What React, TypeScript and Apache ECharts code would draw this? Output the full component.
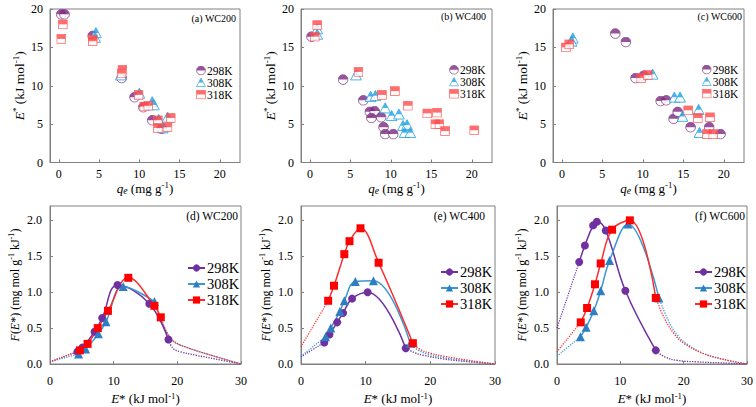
import React, { useEffect, useRef } from 'react';
import * as echarts from 'echarts';

const TEMPS = ['298K', '308K', '318K'];
const PANEL_TOP = ['(a) WC200', '(b) WC400', '(c) WC600'];
const PANEL_BOT = ['(d) WC200', '(e) WC400', '(f) WC600'];
const TOP_X_TICKS = [0, 5, 10, 15, 20];
const TOP_Y_TICKS = [0, 5, 10, 15, 20];
const BOT_X_TICKS = [0, 10, 20, 30];
const BOT_Y_TICKS = [0, 0.5, 1.0, 1.5, 2.0];

// ---- Top panels: qe (mg/g) vs E* (kJ/mol)
const a298 = [[0.3, 19.3], [0.7, 19.3], [4.2, 16.5], [7.8, 11.0], [9.4, 8.5], [10.5, 7.2], [11.6, 5.5], [12.8, 4.4]];
const a308 = [[4.6, 16.9], [4.5, 16.3], [7.7, 11.4], [10.0, 9.0], [11.6, 7.9], [11.8, 7.5], [12.4, 5.6], [12.9, 4.5], [13.5, 5.9]];
const a318 = [[0.3, 16.1], [0.5, 18.0], [4.2, 16.0], [4.2, 15.8], [7.9, 12.1], [7.8, 11.6], [9.9, 8.8], [10.6, 7.3], [11.1, 7.4], [12.3, 5.5], [12.3, 4.5], [13.5, 4.6], [13.9, 5.8]];

const b298 = [[0.2, 16.4], [4.1, 10.8], [6.6, 8.1], [7.4, 6.6], [8.0, 6.7], [7.6, 5.8], [8.8, 5.9], [9.1, 4.6], [9.3, 3.7], [10.3, 3.7]];
const b308 = [[0.9, 17.4], [0.9, 16.7], [5.7, 11.4], [7.5, 8.6], [8.1, 8.7], [9.3, 7.1], [10.1, 6.1], [11.0, 6.3], [11.5, 4.8], [12.0, 4.9], [11.7, 3.9], [12.4, 3.9]];
const b318 = [[0.9, 17.9], [0.6, 16.4], [6.0, 11.8], [8.9, 8.8], [10.5, 9.3], [12.1, 7.4], [14.5, 6.4], [15.7, 6.5], [15.5, 5.0], [16.0, 5.0], [16.7, 4.1], [20.3, 4.2]];

const c298 = [[6.6, 16.8], [7.9, 15.7], [9.1, 11.0], [10.1, 11.3], [12.2, 8.0], [12.9, 8.1], [13.8, 5.7], [14.3, 6.6], [15.9, 4.6], [18.2, 4.6], [19.6, 3.7]];
const c308 = [[1.35, 16.2], [1.2, 15.8], [11.2, 11.5], [13.9, 8.5], [14.6, 8.5], [14.9, 6.0], [16.9, 6.9], [17.0, 3.9]];
const c318 = [[0.5, 15.0], [0.9, 15.4], [9.8, 11.0], [10.6, 11.4], [15.6, 6.8], [16.8, 5.8], [18.3, 5.9], [17.9, 3.7], [18.7, 3.7]];

// ---- Bottom panels: E* vs F(E*)
const d298 = [[4.3, 0.17], [5.1, 0.23], [7.0, 0.45], [8.2, 0.64], [10.6, 1.10], [15.6, 0.84], [18.6, 0.34]];
const d308 = [[4.5, 0.14], [5.6, 0.21], [7.6, 0.42], [8.8, 0.59], [11.5, 1.08], [16.4, 0.87]];
const d318 = [[4.7, 0.19], [5.9, 0.28], [7.5, 0.50], [9.1, 0.74], [12.3, 1.20], [16.4, 0.81], [17.4, 0.65]];
const dStart = [0.03, 0.03, 0.03];
const d298Tail = [[18.6, 0.34], [19.3, 0.22], [20.5, 0.17], [23, 0.12], [26, 0.07], [30, 0]];
const d308Tail = [[16.4, 0.87], [17.5, 0.6], [18.6, 0.4], [19.6, 0.3], [21.5, 0.23], [25, 0.13], [30, 0]];
const d318Tail = [[17.4, 0.65], [18.3, 0.45], [19.4, 0.32], [21.5, 0.23], [25, 0.13], [30, 0]];

const e298 = [[3.6, 0.30], [4.4, 0.41], [5.6, 0.58], [6.5, 0.71], [7.9, 0.91], [10.3, 1.0], [16.2, 0.22]];
const e308 = [[3.8, 0.38], [4.6, 0.50], [6.0, 0.73], [6.7, 0.88], [8.4, 1.15], [11.2, 1.16], [16.9, 0.29]];
const e318 = [[4.2, 0.88], [5.1, 1.09], [6.7, 1.53], [7.5, 1.71], [9.2, 1.89], [12.0, 1.41], [17.3, 0.29]];
const eStart = [0.10, 0.11, 0.24];
const e298Tail = [[16.2, 0.22], [17.5, 0.16], [19, 0.12], [22, 0.07], [26, 0.03], [30, 0]];
const e308Tail = [[16.9, 0.29], [18, 0.2], [19.5, 0.14], [22, 0.09], [26, 0.04], [30, 0]];
const e318Tail = [[17.3, 0.29], [18.5, 0.2], [20, 0.15], [22, 0.11], [26, 0.05], [30, 0]];

const f298 = [[3.5, 1.42], [4.4, 1.65], [5.7, 1.93], [6.3, 1.98], [7.7, 1.86], [10.8, 1.02], [15.6, 0.19]];
const f308 = [[3.7, 0.38], [4.6, 0.51], [5.8, 0.74], [6.9, 1.02], [8.3, 1.44], [11.2, 1.95], [16.1, 0.92]];
const f318 = [[3.75, 0.58], [4.75, 0.78], [6.0, 1.11], [6.9, 1.40], [8.7, 1.87], [11.5, 2.0], [15.6, 0.92]];
const fStart = [0.50, 0.11, 0.17];
const f298Tail = [[15.6, 0.19], [17, 0.1], [19, 0.05], [22, 0.03], [26, 0.015], [30, 0]];
const f308Tail = [[16.1, 0.92], [17.5, 0.62], [19, 0.4], [20.5, 0.28], [23, 0.15], [26, 0.07], [30, 0]];
const f318Tail = [[15.6, 0.92], [17, 0.63], [18.5, 0.42], [20, 0.29], [23, 0.15], [26, 0.07], [30, 0]];

const FONT = 'Liberation Serif, serif';
const AX = '#808080';
const TOP_COLORS = ['#7B2A80', '#1CA0E3', '#FF4B4B'];
const BOT_MARK = ['#7030A0', '#2E7FC2', '#FF0000'];
const BOT_LINE = ['#7030A0', '#3A97D6', '#FF2A2A'];

function svgUrl(svg: string) {
  return 'image://data:image/svg+xml;charset=utf-8,' + encodeURIComponent(svg);
}
function circleImg(c: string) {
  return svgUrl(`<svg xmlns="http://www.w3.org/2000/svg" width="24" height="24" viewBox="0 0 24 24"><circle cx="12" cy="12" r="10.6" fill="#ffffff" stroke="${c}" stroke-width="2"/><path d="M1.4 12 A10.6 10.6 0 0 1 22.6 12 Z" fill="${c}"/></svg>`);
}
function triImg(c: string) {
  return svgUrl(`<svg xmlns="http://www.w3.org/2000/svg" width="24" height="24" viewBox="0 0 24 24"><polygon points="12,1.6 22.8,21.8 1.2,21.8" fill="#ffffff" stroke="${c}" stroke-width="2"/><polygon points="12,1.6 17.6,12.2 6.4,12.2" fill="${c}"/></svg>`);
}
function sqImg(c: string) {
  return svgUrl(`<svg xmlns="http://www.w3.org/2000/svg" width="24" height="24" viewBox="0 0 24 24"><rect x="1.5" y="1.5" width="21" height="21" fill="#ffffff" stroke="${c}" stroke-width="2"/><rect x="1.5" y="1.5" width="21" height="10.5" fill="${c}"/></svg>`);
}

const richBase = (size: number) => ({
  i: { fontStyle: 'italic', fontFamily: FONT, fontSize: size, color: '#000' },
  sup: { fontFamily: FONT, fontSize: size * 0.68, color: '#000', verticalAlign: 'top', lineHeight: size * 0.7 },
  subi: { fontFamily: FONT, fontStyle: 'italic', fontSize: size * 0.75, color: '#000', verticalAlign: 'bottom', lineHeight: size * 0.75 },
});

const App: React.FC = () => {
  const ref = useRef<HTMLDivElement>(null);
  useEffect(() => {
    if (!ref.current) return;
    const chart = echarts.init(ref.current, undefined, { renderer: 'svg' });

    const topGrids = [
      { left: 50, top: 9, width: 190, height: 153.5 },
      { left: 301, top: 9, width: 191, height: 153.5 },
      { left: 553, top: 9, width: 191, height: 153.5 },
    ];
    const botGrids = [
      { left: 50, top: 206, width: 191, height: 158.3 },
      { left: 301, top: 206, width: 194, height: 158.3 },
      { left: 557, top: 206, width: 190, height: 158.3 },
    ];
    const grid = [...topGrids, ...botGrids].map((g) => ({
      ...g,
      show: true,
      borderColor: AX,
      borderWidth: 1,
      backgroundColor: 'transparent',
      containLabel: false,
    }));

    const labelStyle = { fontFamily: FONT, fontSize: 12, color: '#000' };
    const multFmt = (step: number, dec: number) => (v: number) =>
      Math.abs(v / step - Math.round(v / step)) < 1e-6 ? v.toFixed(dec) : '';
    const line = { show: true, onZero: false, lineStyle: { color: AX, width: 1 } };

    const xAxis: any[] = [];
    const yAxis: any[] = [];
    for (let i = 0; i < 3; i++) {
      xAxis.push({
        type: 'value', gridIndex: i, min: -1.1, max: 22.5,
        axisLine: line,
        axisTick: { show: true, inside: true, length: 3, lineStyle: { color: AX }, customValues: TOP_X_TICKS },
        axisLabel: { ...labelStyle, margin: 5, customValues: TOP_X_TICKS, formatter: multFmt(5, 0) },
        splitLine: { show: false },
        name: '{i|q}{subi|e} (mg g{sup|-1})',
        nameLocation: 'middle', nameGap: 18,
        nameTextStyle: { fontFamily: FONT, fontSize: 13, color: '#000', lineHeight: 15, rich: richBase(13) },
      });
      yAxis.push({
        type: 'value', gridIndex: i, min: 0, max: 20, interval: 5,
        axisLine: line,
        axisTick: { show: true, inside: true, length: 3, lineStyle: { color: AX }, customValues: TOP_Y_TICKS },
        axisLabel: { ...labelStyle, margin: 7, customValues: TOP_Y_TICKS },
        splitLine: { show: false },
        name: '{i|E}{sup|*} (kJ mol{sup|-1})',
        nameLocation: 'middle', nameGap: 22,
        nameTextStyle: { fontFamily: FONT, fontSize: 13.5, color: '#000', lineHeight: 16, rich: richBase(13.5) },
      });
    }
    for (let i = 0; i < 3; i++) {
      xAxis.push({
        type: 'value', gridIndex: 3 + i, min: 0, max: 30, interval: 10,
        axisLine: line,
        axisTick: { show: true, inside: true, length: 3, lineStyle: { color: AX }, customValues: BOT_X_TICKS },
        axisLabel: { ...labelStyle, margin: 11, customValues: BOT_X_TICKS },
        splitLine: { show: false },
        name: '{i|E}* (kJ mol{sup|-1})',
        nameLocation: 'middle', nameGap: 27,
        nameTextStyle: { fontFamily: FONT, fontSize: 13, color: '#000', lineHeight: 15, rich: richBase(13) },
      });
      yAxis.push({
        type: 'value', gridIndex: 3 + i, min: 0, max: 2.2,
        axisLine: line,
        axisTick: { show: true, inside: true, length: 3, lineStyle: { color: AX }, customValues: BOT_Y_TICKS },
        axisLabel: { ...labelStyle, margin: 8, customValues: BOT_Y_TICKS, formatter: multFmt(0.5, 1) },
        splitLine: { show: false },
        name: '{i|F}({i|E}*) (mg mol g{sup|-1} kJ{sup|-1})',
        nameLocation: 'middle', nameGap: 28,
        nameTextStyle: { fontFamily: FONT, fontSize: 12, color: '#000', lineHeight: 15, rich: richBase(12) },
      });
    }

    const series: any[] = [];
    const topSets = [[a298, a308, a318], [b298, b308, b318], [c298, c308, c318]];
    const topSymbols = [circleImg(TOP_COLORS[0]), triImg(TOP_COLORS[1]), sqImg(TOP_COLORS[2])];
    const topSizes = [11, 12, 10];
    topSets.forEach((set, p) => {
      set.forEach((data, t) => {
        series.push({
          type: 'scatter', name: TEMPS[t], xAxisIndex: p, yAxisIndex: p,
          data, symbol: topSymbols[t], symbolSize: topSizes[t],
          itemStyle: { color: TOP_COLORS[t] },
        });
      });
    });

    const botSets = [[d298, d308, d318], [e298, e308, e318], [f298, f308, f318]];
    const botStarts = [dStart, eStart, fStart];
    const botTails = [[d298Tail, d308Tail, d318Tail], [e298Tail, e308Tail, e318Tail], [f298Tail, f308Tail, f318Tail]];
    const botSymbols = ['circle', 'triangle', 'rect'];
    const botSizes = [8, 9, 8];
    botSets.forEach((set, p) => {
      set.forEach((data, t) => {
        const ax = 3 + p;
        series.push({
          type: 'line', name: 'ext', xAxisIndex: ax, yAxisIndex: ax,
          data: [[0, botStarts[p][t]], data[0]], symbol: 'none', smooth: 0.3,
          lineStyle: { color: BOT_LINE[t], width: 1.2, type: 'dotted' }, z: 1,
        });
        series.push({
          type: 'line', name: 'ext', xAxisIndex: ax, yAxisIndex: ax,
          data: botTails[p][t], symbol: 'none', smooth: 0.4,
          lineStyle: { color: BOT_LINE[t], width: 1.3, type: 'dotted' }, z: 1,
        });
      });
      set.forEach((data, t) => {
        const ax = 3 + p;
        series.push({
          type: 'line', name: 'b' + TEMPS[t], xAxisIndex: ax, yAxisIndex: ax,
          data, symbol: botSymbols[t], symbolSize: botSizes[t], showSymbol: true,
          smooth: 0.4,
          itemStyle: { color: BOT_MARK[t], borderWidth: 0 },
          lineStyle: { color: BOT_LINE[t], width: 1.5 }, z: 3,
        });
      });
    });

    const topLegendPos = [[196, 64.5], [449, 63.8], [701.7, 63.5]];
    const botLegendPos = [[187, 260.5], [440, 264.5], [694, 264.5]];
    const legend: any[] = [];
    topLegendPos.forEach(([l, tp]) => {
      legend.push({
        left: l, top: tp, orient: 'vertical', data: TEMPS, selectedMode: false,
        itemWidth: 10, itemHeight: 10, itemGap: 0, padding: 0,
        textStyle: { fontFamily: FONT, fontSize: 11.5, color: '#000', padding: [0, 0, 0, -4] },
      });
    });
    botLegendPos.forEach(([l, tp]) => {
      legend.push({
        left: l, top: tp, orient: 'vertical', data: TEMPS.map((t) => 'b' + t), selectedMode: false,
        formatter: (n: string) => n.slice(1),
        itemWidth: 17, itemHeight: 9, itemGap: 1, padding: 0,
        textStyle: { fontFamily: FONT, fontSize: 14.5, color: '#000', padding: [0, 0, 0, -3] },
      });
    });

    const graphic: any[] = [];
    const topLab = [[236, 18], [486, 16], [742, 16]];
    topLab.forEach(([x, y], i) => {
      graphic.push({
        type: 'text', x, y, silent: true,
        style: { text: PANEL_TOP[i], fill: '#000', font: `10px ${FONT}`, align: 'right', verticalAlign: 'middle' },
      });
    });
    const botLab = [[238, 216], [485, 216], [745, 216]];
    botLab.forEach(([x, y], i) => {
      graphic.push({
        type: 'text', x, y, silent: true,
        style: { text: PANEL_BOT[i], fill: '#000', font: `11.5px ${FONT}`, align: 'right', verticalAlign: 'middle' },
      });
    });

    chart.setOption({
      animation: false,
      backgroundColor: '#ffffff',
      textStyle: { fontFamily: FONT },
      grid, xAxis, yAxis, series, legend, graphic,
    });
    return () => chart.dispose();
  }, []);
  return <div ref={ref} style={{ position: 'fixed', left: 0, top: 0, width: 756, height: 407 }} />;
};

export default App;
